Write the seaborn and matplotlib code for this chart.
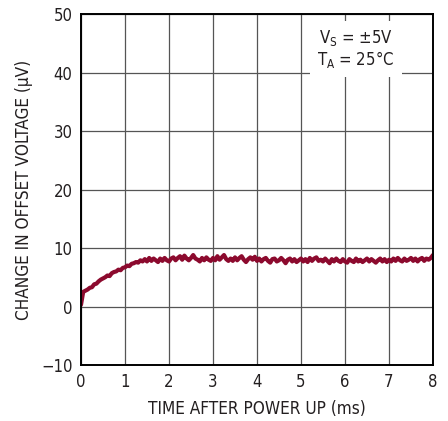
import numpy as np
import matplotlib
matplotlib.use("Agg")
import matplotlib.pyplot as plt
import seaborn as sns

# offset voltage change (uV) sampled every 0.05 ms from 0 to 8 ms
offset_uv = [
    0.3, 2.5, 2.7, 2.9, 3.2, 3.3, 3.8, 3.9, 4.3, 4.6, 4.8, 5.0, 5.3, 5.2, 5.7, 5.9, 6.0, 6.3, 6.2, 6.6,
    6.7, 7.0, 6.9, 7.3, 7.4, 7.6, 7.5, 7.9, 7.7, 8.1, 7.7, 8.3, 7.8, 8.2, 7.9, 7.6, 8.2, 7.8, 8.3, 7.9,
    7.7, 8.2, 8.4, 7.9, 8.3, 8.6, 8.0, 8.7, 8.2, 7.9, 8.3, 8.8, 8.2, 8.0, 7.7, 8.3, 7.9, 8.4, 8.0, 7.8,
    8.3, 7.9, 8.6, 8.0, 8.4, 8.8, 8.1, 7.8, 8.2, 7.8, 8.4, 7.9, 8.3, 8.6, 8.0, 7.6, 8.1, 8.4, 8.0, 8.5,
    7.8, 8.2, 7.7, 8.1, 8.3, 7.8, 7.5, 8.1, 8.2, 7.7, 7.9, 8.3, 7.9, 7.4, 8.0, 8.2, 7.7, 8.1, 7.6, 7.9,
    8.2, 7.7, 8.1, 7.6, 8.3, 7.8, 8.2, 8.4, 7.8, 8.0, 7.7, 8.2, 7.8, 7.4, 8.1, 7.7, 8.2, 7.8, 7.6, 8.1,
    7.7, 7.5, 8.1, 7.8, 7.6, 8.2, 7.7, 8.0, 7.6, 7.9, 8.2, 7.7, 8.1, 7.8, 7.5, 7.9, 8.2, 7.7, 8.1, 7.6,
    8.0, 7.7, 8.2, 7.8, 8.3, 7.9, 7.7, 8.2, 7.8, 8.0, 8.3, 7.8, 8.2, 7.7, 8.1, 8.3, 7.8, 8.2, 8.0, 8.3,
    8.8,
]
time_ms = np.linspace(0, 8, len(offset_uv))

x_ticks = [0, 1, 2, 3, 4, 5, 6, 7, 8]
y_ticks = [-10, 0, 10, 20, 30, 40, 50]
y_tick_labels = ["\u221210", "0", "10", "20", "30", "40", "50"]

sns.set_style("white")
plt.rcParams['font.family'] = ['DejaVu Sans']
plt.rcParams['font.stretch'] = 'condensed'
plt.rcParams['mathtext.fontset'] = 'custom'
plt.rcParams['mathtext.rm'] = 'DejaVu Sans:stretch=condensed'

txt = "#231f20"
fig = plt.figure(figsize=(4.48, 4.21), dpi=100)
ax = fig.add_axes([0.1808, 0.133, 0.7857, 0.8337])

sns.lineplot(x=time_ms, y=offset_uv, ax=ax, color="#8c0a2e", linewidth=3.0)

ax.set_xlim(0, 8)
ax.set_ylim(-10, 50)
ax.set_xticks(x_ticks)
ax.set_yticks(y_ticks)
ax.set_yticklabels(y_tick_labels)
ax.tick_params(length=0, labelsize=12, colors=txt, pad=6)
ax.grid(True, color="#555555", linewidth=0.9)
for s in ax.spines.values():
    s.set_color("black")
    s.set_linewidth(1.4)

ax.set_xlabel("TIME AFTER POWER UP (ms)", fontsize=12.3, color=txt, labelpad=6)
ax.set_ylabel("CHANGE IN OFFSET VOLTAGE (\u03bcV)", fontsize=12.3, color=txt, labelpad=6)

ax.text(6.25, 44.0, "V$_\\mathrm{S}$ = \u00b15V\nT$_\\mathrm{A}$ = 25\u00b0C", fontsize=12,
        color=txt, ha="center", va="center", linespacing=1.05,
        bbox=dict(facecolor="white", edgecolor="none", pad=5))

fig.savefig("out.png", dpi=100)
